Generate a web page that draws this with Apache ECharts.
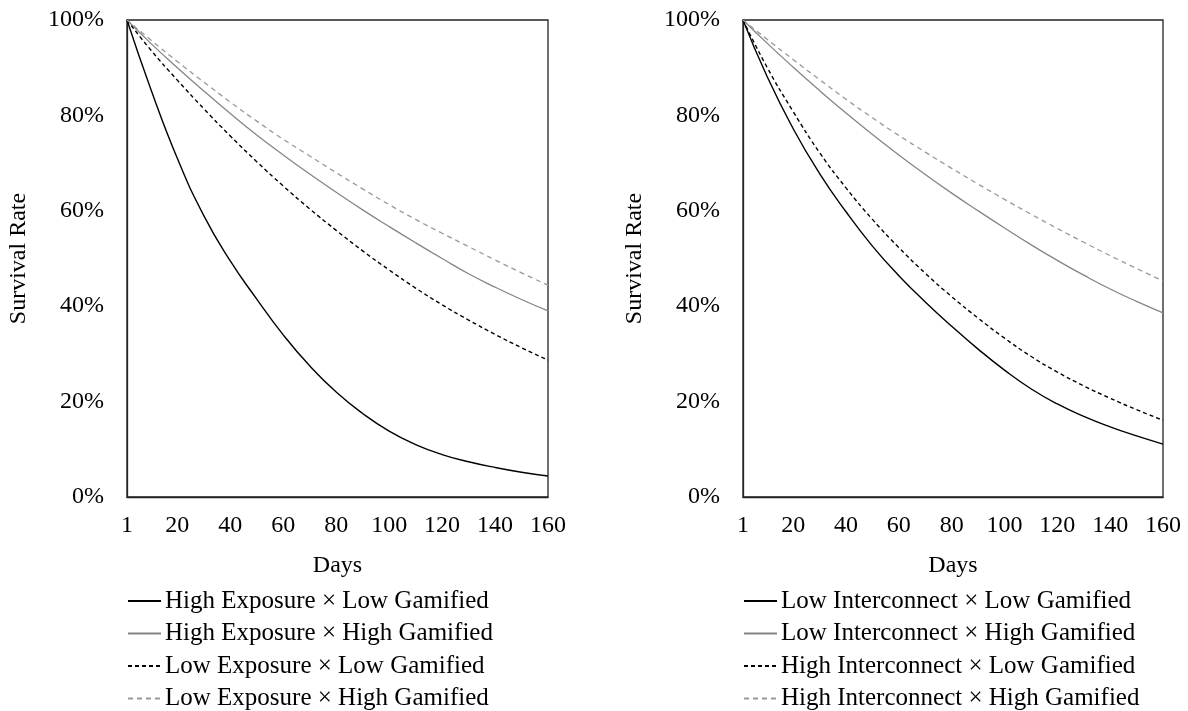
<!DOCTYPE html>
<html>
<head>
<meta charset="utf-8">
<script src="https://cdn.jsdelivr.net/npm/echarts@6/dist/echarts.min.js"></script>
<style>
  html, body { margin: 0; padding: 0; background: #fff; }
  #chart { width: 1188px; height: 711px; }
</style>
</head>
<body>
<div id="chart"></div>
<script>
const DAYS = [1, 10, 20, 30, 40, 50, 60, 70, 80, 90, 100, 110, 120, 130, 140, 150, 160]
const X_TICKS = [1, 20, 40, 60, 80, 100, 120, 140, 160]

// left panel: exposure x gamification
const LEFT_NAMES = [
  'High Exposure × Low Gamified', 'High Exposure × High Gamified',
  'Low Exposure × Low Gamified', 'Low Exposure × High Gamified',
]
const hiExpLoGam = [100, 85.5, 71, 59, 49.5, 41.5, 34, 27.5, 22, 17.5, 13.8, 11, 8.9, 7.4, 6.2, 5.2, 4.4]
const hiExpHiGam = [100, 95.1, 90.0, 85.1, 80.4, 75.9, 71.7, 67.7, 63.9, 60.2, 56.7, 53.3, 50.0, 46.8, 44.0, 41.4, 39.0]
const loExpLoGam = [100, 93.7, 87.4, 81.4, 75.7, 70.3, 65.2, 60.4, 55.9, 51.6, 47.6, 43.8, 40.3, 37.1, 34.1, 31.3, 28.7]
const loExpHiGam = [100, 95.8, 91.3, 87, 82.8, 78.8, 75, 71.5, 68, 64.6, 61.3, 58.2, 55.3, 52.5, 49.7, 47, 44.4]

// right panel: interconnect x gamification
const RIGHT_NAMES = [
  'Low Interconnect × Low Gamified', 'Low Interconnect × High Gamified',
  'High Interconnect × Low Gamified', 'High Interconnect × High Gamified',
]
const loIntLoGam = [100, 88.3, 77.2, 67.8, 59.8, 52.6, 46.4, 40.9, 35.8, 31.0, 26.6, 22.7, 19.5, 16.9, 14.7, 12.8, 11.1]
const loIntHiGam = [100, 95.2, 90.1, 85.2, 80.5, 76.0, 71.7, 67.6, 63.7, 60.0, 56.4, 52.9, 49.6, 46.5, 43.6, 41.0, 38.6]
const hiIntLoGam = [100, 90.2, 80.8, 72.2, 64.8, 58.2, 52.3, 46.9, 42.0, 37.5, 33.3, 29.5, 26.2, 23.3, 20.7, 18.3, 16.1]
const hiIntHiGam = [100, 96.0, 91.7, 87.5, 83.4, 79.5, 75.8, 72.3, 68.9, 65.6, 62.4, 59.3, 56.3, 53.4, 50.6, 47.9, 45.3]

const FONT = 'Liberation Serif'
const STYLES = [
  { color: '#000', width: 1.4, type: 'solid' },
  { color: '#858585', width: 1.3, type: 'solid' },
  { color: '#000', width: 1.4, type: [4, 3] },
  { color: '#999', width: 1.3, type: [5, 4] },
]

const chart = echarts.init(document.getElementById('chart'), null, { renderer: 'canvas' })

const grids = [
  { left: 127, top: 20, width: 421, height: 477 },
  { left: 743, top: 20, width: 420, height: 477 },
]

function xAxisFor(i) {
  return {
    type: 'value', gridIndex: i, min: 1, max: 160,
    name: 'Days', nameLocation: 'middle', nameGap: 57,
    nameTextStyle: { color: '#000', fontFamily: FONT, fontSize: 24 },
    axisLine: { show: true, lineStyle: { color: '#222', width: 1.3 } },
    axisTick: { show: false },
    splitLine: { show: false },
    axisLabel: { customValues: X_TICKS, color: '#000', fontFamily: FONT, fontSize: 24, margin: 17 },
  }
}

function yAxisFor(i) {
  return {
    type: 'value', gridIndex: i, min: 0, max: 100, interval: 20,
    name: 'Survival Rate', nameLocation: 'middle', nameGap: 96,
    nameTextStyle: { color: '#000', fontFamily: FONT, fontSize: 24 },
    axisLine: { show: true, lineStyle: { color: '#222', width: 1.3 } },
    axisTick: { show: false },
    splitLine: { show: false },
    axisLabel: { formatter: '{value}%', color: '#000', fontFamily: FONT, fontSize: 24, margin: 23 },
  }
}

function makeSeries(names, lists, axisIdx) {
  return names.map((n, k) => ({
    name: n, type: 'line', smooth: true, symbol: 'none',
    xAxisIndex: axisIdx, yAxisIndex: axisIdx,
    data: DAYS.map((d, j) => [d, lists[k][j]]),
    lineStyle: STYLES[k],
    itemStyle: { color: STYLES[k].color },
  }))
}

function legendFor(names, left) {
  return {
    data: names, orient: 'vertical', left: left, top: 588.5, padding: 0,
    itemWidth: 33, itemHeight: 14, itemGap: 7.5,
    itemStyle: { opacity: 0 },
    textStyle: { color: '#000', fontFamily: FONT, fontSize: 25, lineHeight: 25, padding: [0, 0, 0, -1] },
  }
}

const option = {
  backgroundColor: '#fff',
  animation: false,
  grid: grids.map(g => ({ ...g, show: true, borderColor: '#222', borderWidth: 1.3 })),
  xAxis: [xAxisFor(0), xAxisFor(1)],
  yAxis: [yAxisFor(0), yAxisFor(1)],
  legend: [legendFor(LEFT_NAMES, 127), legendFor(RIGHT_NAMES, 743)],
  series: [
    ...makeSeries(LEFT_NAMES, [hiExpLoGam, hiExpHiGam, loExpLoGam, loExpHiGam], 0),
    ...makeSeries(RIGHT_NAMES, [loIntLoGam, loIntHiGam, hiIntLoGam, hiIntHiGam], 1),
  ],
}

chart.setOption(option)
</script>
</body>
</html>
